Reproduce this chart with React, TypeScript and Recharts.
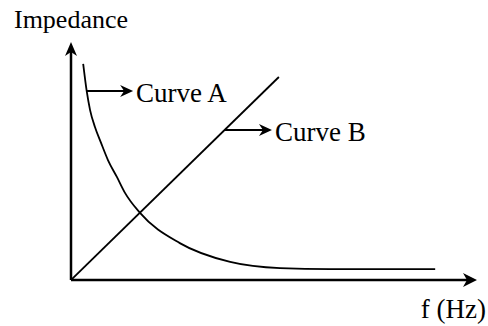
import React from 'react';
import { LineChart, Line, XAxis, YAxis, ReferenceLine, ReferenceDot } from 'recharts';

// frequency (arbitrary units) and impedance
const curveAFreq = [0.3, 0.39, 0.47, 0.59, 0.74, 0.91, 1.13, 1.33, 1.7, 2.68, 3.92, 5.15, 6.38, 8.97];
const curveAImpedance = [9.08, 7.9, 7.14, 6.43, 5.76, 5.04, 4.33, 3.66, 2.82, 1.55, 0.76, 0.5, 0.46, 0.46];
const curveBFreq = [0, 5.12];
const curveBImpedance = [0, 8.53];

const axisLabels = { y: 'Impedance', x: 'f (Hz)' };
const curveNames = ['Curve A', 'Curve B'];

const curveA = curveAFreq.map((f, i) => ({ f, z: curveAImpedance[i] }));
const curveB = curveBFreq.map((f, i) => ({ f, z: curveBImpedance[i] }));

const SERIF = 'Liberation Serif, Times New Roman, Tinos, DejaVu Serif, serif';

const Txt = (props: any) => (
  <text {...props} fontFamily={SERIF} style={{ fontFamily: SERIF }} fill="#000" />
);

const YArrow = ({ cx, cy }: any) => (
  <g>
    <path d={`M${cx},${cy} L${cx - 6},${cy + 14} L${cx},${cy + 10} L${cx + 6},${cy + 14} Z`} fill="#000" />
    <Txt x={cx} y={cy - 14} textAnchor="middle" fontSize={26}>
      {axisLabels.y}
    </Txt>
  </g>
);

const XArrow = ({ cx, cy }: any) => (
  <g>
    <path d={`M${cx},${cy} L${cx - 14},${cy - 7} L${cx - 10},${cy} L${cx - 14},${cy + 7} Z`} fill="#000" />
    <Txt x={cx + 9} y={cy + 38} textAnchor="end" fontSize={27}>
      {axisLabels.x}
    </Txt>
  </g>
);

const pointer = (name: string) => ({ cx, cy }: any) => (
  <g>
    <path d={`M${cx},${cy} L${cx - 13},${cy - 6} L${cx - 9},${cy} L${cx - 13},${cy + 6} Z`} fill="#000" />
    <Txt x={cx + 3} y={cy + 11} fontSize={27}>
      {name}
    </Txt>
  </g>
);

export default function App() {
  return (
    <div style={{ position: 'absolute', left: 0, top: 0, width: 488, height: 326, background: '#fff', fontFamily: SERIF }}>
      <LineChart width={488} height={326} margin={{ top: 42, left: 71, right: 11, bottom: 46 }}>
        <XAxis type="number" dataKey="f" domain={[0, 10]} hide allowDataOverflow />
        <YAxis type="number" domain={[0, 10]} hide allowDataOverflow />

        {/* axes */}
        <ReferenceLine segment={[{ x: 0, y: 0 }, { x: 0, y: 9.6 }]} stroke="#000" strokeWidth={2.5} />
        <ReferenceLine segment={[{ x: 0, y: 0 }, { x: 9.8, y: 0 }]} stroke="#000" strokeWidth={2.5} />
        <ReferenceDot x={0} y={10} shape={YArrow} />
        <ReferenceDot x={10} y={0} shape={XArrow} />

        <Line data={curveA} dataKey="z" type="monotone" stroke="#000" strokeWidth={1.8} dot={false} isAnimationActive={false} />
        <Line data={curveB} dataKey="z" type="linear" stroke="#000" strokeWidth={1.8} dot={false} isAnimationActive={false} />

        {/* pointers to the curves */}
        <ReferenceLine segment={[{ x: 0.39, y: 7.94 }, { x: 1.35, y: 7.94 }]} stroke="#000" strokeWidth={2} />
        <ReferenceDot x={1.53} y={7.94} shape={pointer(curveNames[0])} />
        <ReferenceLine segment={[{ x: 3.79, y: 6.3 }, { x: 4.75, y: 6.3 }]} stroke="#000" strokeWidth={2} />
        <ReferenceDot x={4.95} y={6.3} shape={pointer(curveNames[1])} />
      </LineChart>
    </div>
  );
}
